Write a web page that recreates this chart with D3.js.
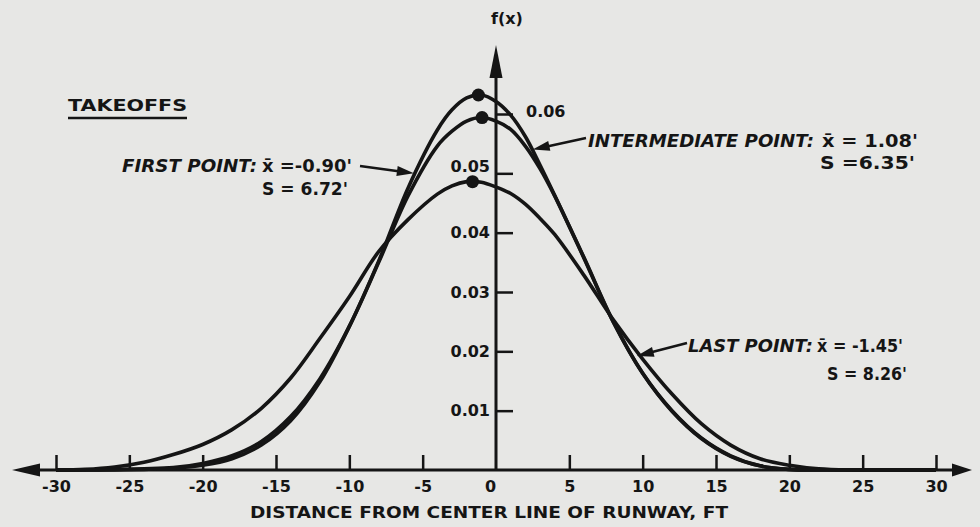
<!DOCTYPE html>
<html>
<head>
<meta charset="utf-8">
<script src="https://cdn.jsdelivr.net/npm/d3@7"></script>
<style>
  html, body { margin: 0; padding: 0; background: #e7e7e5; }
  svg { display: block; }
  text { font-family: "DejaVu Sans", sans-serif; font-weight: bold; fill: #151515; }
</style>
</head>
<body>
<div id="chart"></div>
<script>
// distance from runway centre line (ft) where the curves were read
const distances = [-30, -28, -26, -24, -22, -20, -18, -16, -14, -12, -10, -8, -6, -4, -3, -2, -1,
  0, 1, 2, 3, 4, 6, 8, 10, 12, 14, 16, 18, 20, 22, 24, 26, 28, 30];

// f(x)
const firstPoint = [0, 0, 0.0001, 0.0002, 0.0004, 0.0011, 0.0024, 0.0048, 0.0090, 0.0154, 0.0242,
  0.0350, 0.0462, 0.0546, 0.0571, 0.0588, 0.0594, 0.0588, 0.0574, 0.0546, 0.0508, 0.0462, 0.0357,
  0.0249, 0.0163, 0.0100, 0.0054, 0.0024, 0.0007, 0.0001, 0, 0, 0, 0, 0];
const intermediatePoint = [0, 0, 0, 0.0001, 0.0003, 0.0008, 0.0019, 0.0042, 0.0083, 0.0149, 0.0242,
  0.0352, 0.0475, 0.0573, 0.0607, 0.0627, 0.0632, 0.0621, 0.0598, 0.0562, 0.0514, 0.0463, 0.0358,
  0.0250, 0.0163, 0.0099, 0.0053, 0.0023, 0.0007, 0.0001, 0, 0, 0, 0, 0];
const lastPoint = [0, 0.0001, 0.0005, 0.0013, 0.0026, 0.0043, 0.0068, 0.0104, 0.0155, 0.0222, 0.0292,
  0.0368, 0.0422, 0.0465, 0.0479, 0.0486, 0.0485, 0.0477, 0.0466, 0.0448, 0.0424, 0.0397, 0.0328,
  0.0253, 0.0187, 0.0128, 0.0078, 0.0042, 0.0019, 0.0008, 0.0002, 0, 0, 0, 0];

// peak dots (first, intermediate, last)
const peakX = [-0.95, -1.2, -1.6];
const peakY = [0.0594, 0.0632, 0.0486];

const xTicks = [-30, -25, -20, -15, -10, -5, 0, 5, 10, 15, 20, 25, 30];
const xTickLabels = ["-30", "-25", "-20", "-15", "-10", "-5", "0", "5", "10", "15", "20", "25", "30"];
const yTicks = [0.01, 0.02, 0.03, 0.04, 0.05, 0.06];
const yTickLabels = ["0.01", "0.02", "0.03", "0.04", "0.05", "0.06"];

const seriesNames = ["FIRST POINT:", "INTERMEDIATE POINT:", "LAST POINT:"];
const seriesMeans = ["x\u0304 =-0.90'", "x\u0304 = 1.08'", "x\u0304 = -1.45'"];
const seriesSd = ["S = 6.72'", "S =6.35'", "S =  8.26'"];

const ink = "#151515";
const W = 980, H = 527;

const svg = d3.select("#chart").append("svg").attr("width", W).attr("height", H);
svg.append("rect").attr("width", W).attr("height", H).attr("fill", "#e7e7e5");

const x = d3.scaleLinear().domain([-30, 30]).range([56, 936]);
const y = d3.scaleLinear().domain([0, 0.06]).range([470, 114]);

/** filled arrow head with its tip at (tx, ty), pointing away from (fx, fy) */
function arrowHead(g, fx, fy, tx, ty, len, half) {
  const a = Math.atan2(ty - fy, tx - fx);
  const bx = tx - len * Math.cos(a), by = ty - len * Math.sin(a);
  const px = -Math.sin(a) * half, py = Math.cos(a) * half;
  g.append("polygon")
    .attr("points", [[tx, ty], [bx + px, by + py], [bx - px, by - py]].map((p) => p.join(",")).join(" "))
    .attr("fill", ink);
}

// x axis
const xAxis = d3.axisBottom(x)
  .tickValues(xTicks)
  .tickFormat((d, i) => xTickLabels[i])
  .tickSize(-15)
  .tickPadding(11);
const gx = svg.append("g").attr("transform", `translate(0,${y(0)})`).call(xAxis);
gx.select(".domain").remove();
gx.selectAll(".tick line").attr("stroke", ink).attr("stroke-width", 2.5);
gx.selectAll(".tick").filter((d) => d === 0).select("line").remove();
gx.selectAll(".tick").filter((d) => d === 0).select("text").attr("dx", -6);
gx.selectAll(".tick text").style("font-size", "16px");

const axisLeftEnd = x.range()[0] - 44, axisRightEnd = x.range()[1] + 36;
svg.append("line")
  .attr("x1", axisLeftEnd + 10).attr("x2", axisRightEnd - 10)
  .attr("y1", y(0)).attr("y2", y(0))
  .attr("stroke", ink).attr("stroke-width", 3);
arrowHead(svg, axisLeftEnd + 30, y(0), axisLeftEnd, y(0), 28, 6.5);
arrowHead(svg, axisRightEnd - 30, y(0), axisRightEnd, y(0), 20, 6.5);

// y axis
const yAxis = d3.axisLeft(y)
  .tickValues(yTicks)
  .tickFormat((d, i) => yTickLabels[i])
  .tickSize(-17)
  .tickPadding(6);
const gy = svg.append("g").attr("transform", `translate(${x(0)},0)`).call(yAxis);
gy.select(".domain").remove();
gy.selectAll(".tick line").attr("stroke", ink).attr("stroke-width", 2.5);
gy.selectAll(".tick text").style("font-size", "16px");
gy.selectAll(".tick").filter((d) => d === 0.06).select("text")
  .attr("text-anchor", "start").attr("x", 30).attr("dy", "0.15em");
gy.selectAll(".tick").filter((d) => d === 0.05).select("text").attr("dy", "-0.12em");

const yTop = y.range()[1] - 69;
svg.append("line")
  .attr("x1", x(0)).attr("x2", x(0))
  .attr("y1", y(0)).attr("y2", yTop + 20)
  .attr("stroke", ink).attr("stroke-width", 3);
arrowHead(svg, x(0), yTop + 40, x(0), yTop, 33, 6.5);
svg.append("text").attr("x", x(0) - 5).attr("y", 24)
  .style("font-size", "16px").text("f(x)");

// curves
const line = d3.line()
  .x((d, i) => x(distances[i]))
  .y((d) => y(d))
  .curve(d3.curveCatmullRom.alpha(0.5));

svg.selectAll("path.curve")
  .data([lastPoint, firstPoint, intermediatePoint])
  .enter()
  .append("path")
  .attr("class", "curve")
  .attr("d", line)
  .attr("fill", "none")
  .attr("stroke", ink)
  .attr("stroke-width", 3.6)
  .attr("stroke-linejoin", "round");

svg.selectAll("circle.peak")
  .data(peakX)
  .enter()
  .append("circle")
  .attr("class", "peak")
  .attr("cx", (d) => x(d))
  .attr("cy", (d, i) => y(peakY[i]))
  .attr("r", 6.5)
  .attr("fill", ink);

// annotations
svg.append("text").attr("x", 68).attr("y", 111)
  .attr("textLength", 119).attr("lengthAdjust", "spacingAndGlyphs")
  .style("font-size", "16px").text("TAKEOFFS");
svg.append("line").attr("x1", 68).attr("x2", 187).attr("y1", 118).attr("y2", 118)
  .attr("stroke", ink).attr("stroke-width", 2.5);

const notes = [
  { nx: 122, ny: 172, nw: 135, mx: 262, mw: 90, sx: 262, sy: 195, sw: 86,
    from: [360, 166], tip: [-5.6, 0.0500] },
  { nx: 588, ny: 147, nw: 226, mx: 822, mw: 96, sx: 820, sy: 169, sw: 95,
    from: [586, 138], tip: [2.5, 0.0540] },
  { nx: 688, ny: 352, nw: 125, mx: 817, mw: 86, sx: 827, sy: 380, sw: 80,
    from: [687, 343], tip: [9.6, 0.0192] },
];

notes.forEach((n, i) => {
  svg.append("text").attr("x", n.nx).attr("y", n.ny)
    .attr("textLength", n.nw).attr("lengthAdjust", "spacingAndGlyphs")
    .style("font-size", "17px").style("font-style", "italic")
    .text(seriesNames[i]);
  svg.append("text").attr("x", n.mx).attr("y", n.ny)
    .attr("textLength", n.mw).attr("lengthAdjust", "spacingAndGlyphs")
    .style("font-size", "17px")
    .text(seriesMeans[i]);
  svg.append("text").attr("x", n.sx).attr("y", n.sy)
    .attr("textLength", n.sw).attr("lengthAdjust", "spacingAndGlyphs")
    .style("font-size", "17px")
    .text(seriesSd[i]);
  const tx = x(n.tip[0]), ty = y(n.tip[1]);
  const a = Math.atan2(ty - n.from[1], tx - n.from[0]);
  svg.append("line")
    .attr("x1", n.from[0]).attr("y1", n.from[1])
    .attr("x2", tx - 10 * Math.cos(a)).attr("y2", ty - 10 * Math.sin(a))
    .attr("stroke", ink).attr("stroke-width", 2.5);
  arrowHead(svg, n.from[0], n.from[1], tx, ty, 17, 5);
});

svg.append("text").attr("x", 250).attr("y", 518)
  .attr("textLength", 478).attr("lengthAdjust", "spacingAndGlyphs")
  .style("font-size", "16px")
  .text("DISTANCE FROM CENTER LINE OF RUNWAY, FT");
</script>
</body>
</html>
